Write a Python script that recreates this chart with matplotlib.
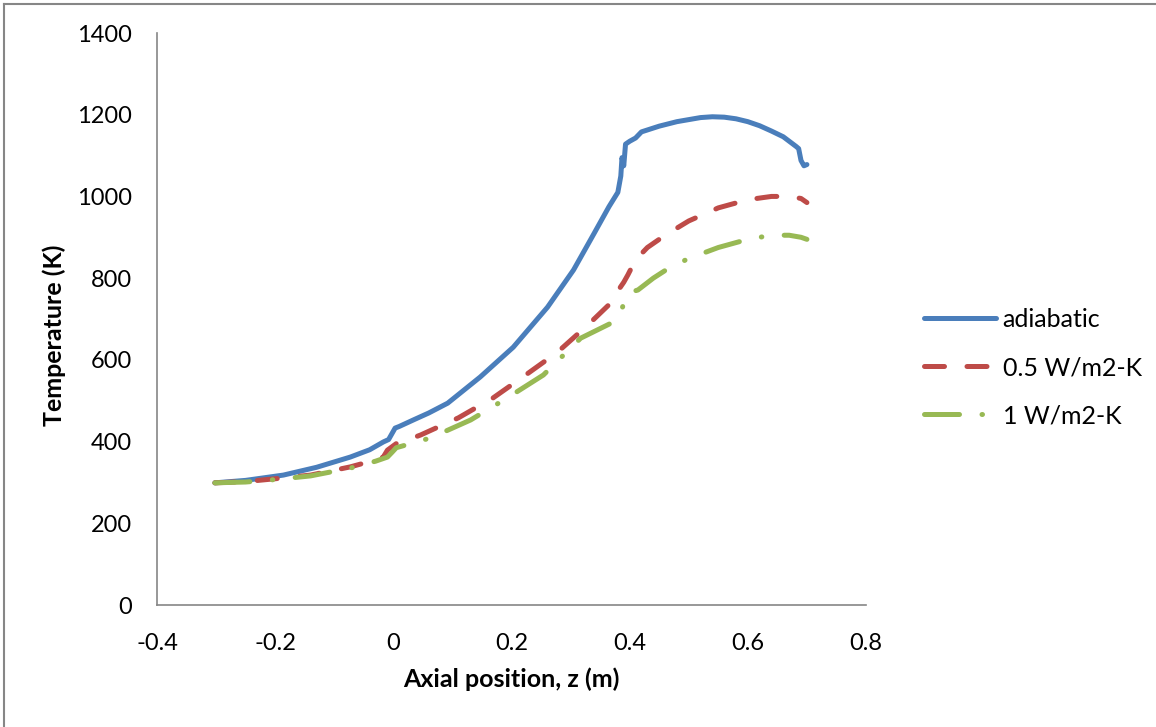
import matplotlib.pyplot as plt
from matplotlib.lines import Line2D

# adiabatic
z_adia = [-0.302, -0.25, -0.186, -0.13, -0.073, -0.04, -0.017, -0.008, 0.003, 0.01,
          0.034, 0.06, 0.092, 0.147, 0.203, 0.261, 0.305, 0.34, 0.365, 0.38,
          0.385, 0.387, 0.39, 0.393, 0.40, 0.41, 0.42, 0.45, 0.48, 0.5, 0.52,
          0.54, 0.56, 0.58, 0.6, 0.62, 0.64, 0.66, 0.682, 0.686, 0.69, 0.695, 0.70]
t_adia = [299, 305, 318, 337, 362, 380, 399, 405, 433, 437,
          453, 470, 494, 558, 631, 729, 820, 910, 975, 1010,
          1050, 1095, 1075, 1128, 1135, 1143, 1158, 1172, 1183, 1188, 1193,
          1195, 1194, 1190, 1183, 1173, 1160, 1146, 1122, 1117, 1088, 1075, 1078]

# 0.5 W/m2-K
z_05 = [-0.302, -0.25, -0.2, -0.14, -0.073, -0.03, -0.017, -0.01, 0.005, 0.02,
        0.046, 0.11, 0.169, 0.224, 0.278, 0.329, 0.365, 0.373, 0.381, 0.39,
        0.397, 0.41, 0.43, 0.46, 0.5, 0.55, 0.6, 0.64, 0.67, 0.69, 0.70]
t_05 = [299, 302, 309, 318, 338, 355, 362, 379, 395, 402,
        416, 458, 507, 563, 619, 685, 735, 745, 771, 790,
        808, 845, 875, 905, 940, 972, 992, 1000, 1000, 995, 985]

# 1 W/m2-K
z_1 = [-0.302, -0.25, -0.2, -0.14, -0.073, -0.03, -0.01, -0.002, 0.005, 0.032,
       0.063, 0.131, 0.193, 0.254, 0.317, 0.373, 0.385, 0.39, 0.393,
       0.397, 0.40, 0.414, 0.44, 0.47, 0.5, 0.55, 0.6, 0.64, 0.67, 0.69, 0.70]
t_1 = [299, 301, 307, 316, 335, 352, 362, 374, 385, 396,
       409, 453, 507, 563, 653, 693, 715, 739, 745,
       752, 765, 771, 800, 828, 848, 875, 895, 905, 905, 900, 895]

fig = plt.figure(figsize=(11.56, 7.27), dpi=100)
plt.rcParams['font.family'] = ['Lato', 'DejaVu Sans']
ax = fig.add_axes([157 / 1156, 1 - 605 / 727, (866 - 157) / 1156, (605 - 33) / 727])

ax.plot(z_adia, t_adia, color='#4a7ebb', lw=3.6, solid_capstyle='round',
        solid_joinstyle='round', label='adiabatic')
ax.plot(z_05, t_05, color='#be4b48', lw=3.6, dashes=(4, 4.5),
        dash_capstyle='round', dash_joinstyle='round', label='0.5 W/m2-K')
ax.plot(z_1, t_1, color='#98b954', lw=3.6, dashes=(7, 4.5, 0.1, 4.5),
        dash_capstyle='round', dash_joinstyle='round', label='1 W/m2-K')

ax.set_xlim(-0.4, 0.8)
ax.set_ylim(0, 1400)
ax.set_xticks([-0.4, -0.2, 0, 0.2, 0.4, 0.6, 0.8])
ax.set_xticklabels(['-0.4', '-0.2', '0', '0.2', '0.4', '0.6', '0.8'])
ax.set_yticks(range(0, 1401, 200))
ax.tick_params(length=0, labelsize=17)
ax.tick_params(axis='y', pad=18)
ax.tick_params(axis='x', pad=20)
for s in ['top', 'right']:
    ax.spines[s].set_visible(False)
for s in ['left', 'bottom']:
    ax.spines[s].set_color('#868686')
    ax.spines[s].set_linewidth(1.2)

ax.set_xlabel('Axial position, z (m)', fontsize=18, fontweight='bold', labelpad=10)
ax.set_ylabel('Temperature (K)', fontsize=18, fontweight='bold')
ax.yaxis.set_label_coords(-0.128, 0.472)

ax.legend(loc='center left', bbox_to_anchor=(1.05, 0.415), frameon=False,
          fontsize=18, handlelength=2.9, labelspacing=1.0, handletextpad=0.25)

# outer chart border (only left and top edges visible)
fig.add_artist(Line2D([4 / 1156, 4 / 1156], [0, 1 - 4 / 727], color='#868686', lw=1.5,
                      transform=fig.transFigure))
fig.add_artist(Line2D([4 / 1156, 1], [1 - 4 / 727, 1 - 4 / 727], color='#868686', lw=1.5,
                      transform=fig.transFigure))

fig.savefig('out.png', dpi=100)
